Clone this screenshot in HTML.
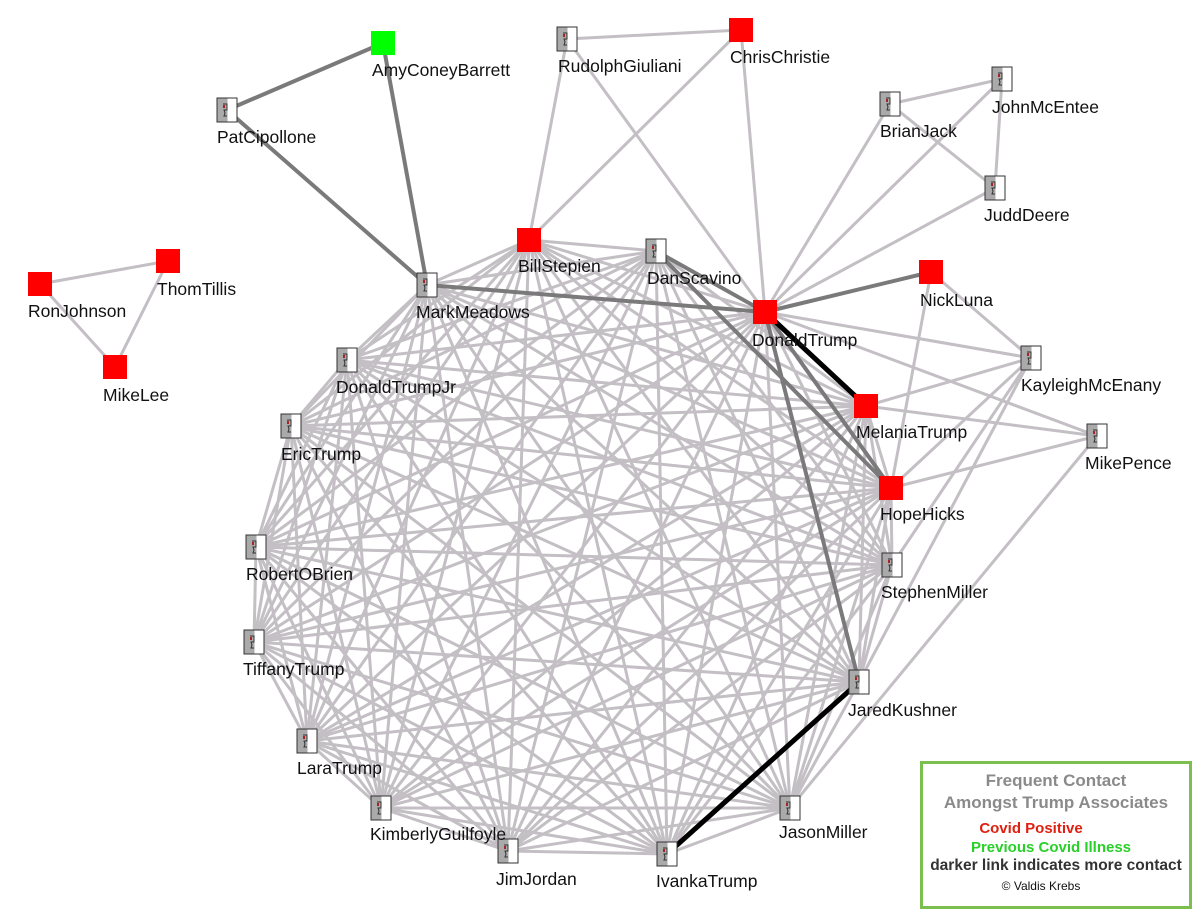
<!DOCTYPE html>
<html><head><meta charset="utf-8"><style>
html,body{margin:0;padding:0;background:#fff;width:1200px;height:918px;overflow:hidden}
svg{position:absolute;left:0;top:0}
text{font-family:"Liberation Sans",sans-serif;font-size:17.5px;fill:#111}
.lg{position:absolute;left:920px;top:761px;width:272px;height:148px;border:3px solid #7bbf4e;box-sizing:border-box;font-family:"Liberation Sans",sans-serif;text-align:center;font-weight:bold}
</style></head><body>
<svg id="s" width="1200" height="918" xmlns="http://www.w3.org/2000/svg">
<g id="edges"></g>
<g id="nodes"></g>
<g>
<text x="372" y="76">AmyConeyBarrett</text>
<text x="217" y="143">PatCipollone</text>
<text x="558" y="72">RudolphGiuliani</text>
<text x="730" y="63">ChrisChristie</text>
<text x="880" y="137">BrianJack</text>
<text x="992" y="113">JohnMcEntee</text>
<text x="984" y="221">JuddDeere</text>
<text x="28" y="317">RonJohnson</text>
<text x="157" y="295">ThomTillis</text>
<text x="103" y="401">MikeLee</text>
<text x="518" y="272">BillStepien</text>
<text x="647" y="284">DanScavino</text>
<text x="416" y="318">MarkMeadows</text>
<text x="920" y="306">NickLuna</text>
<text x="752" y="346">DonaldTrump</text>
<text x="336" y="393">DonaldTrumpJr</text>
<text x="1021" y="391">KayleighMcEnany</text>
<text x="856" y="438">MelaniaTrump</text>
<text x="281" y="460">EricTrump</text>
<text x="1085" y="469">MikePence</text>
<text x="880" y="520">HopeHicks</text>
<text x="246" y="580">RobertOBrien</text>
<text x="881" y="598">StephenMiller</text>
<text x="243" y="675">TiffanyTrump</text>
<text x="848" y="716">JaredKushner</text>
<text x="297" y="774">LaraTrump</text>
<text x="779" y="838">JasonMiller</text>
<text x="370" y="840">KimberlyGuilfoyle</text>
<text x="496" y="885">JimJordan</text>
<text x="656" y="887">IvankaTrump</text>
</g>
</svg>
<div class="lg">
<div style="color:#8a8a8a;font-size:17px;margin-top:6px;line-height:22px">Frequent Contact<br>Amongst Trump Associates</div>
<div style="color:#e02010;font-size:15px;margin-top:5px;margin-right:50px;line-height:19px">Covid Positive</div>
<div style="color:#2ad02a;font-size:15px;margin-top:0px;margin-right:10px;line-height:19px">Previous Covid Illness</div>
<div style="color:#333;font-size:15.5px;line-height:18px">darker link indicates more contact</div>
<div style="color:#111;font-size:12px;font-weight:normal;margin-top:4px;margin-right:30px">© Valdis Krebs</div>
</div>
<script>
var N={
Amy:[383,43,'g'],Pat:[227,110,'i'],Rud:[567,39,'i'],Chr:[741,30,'r'],Bri:[890,104,'i'],Joh:[1002,79,'i'],Jud:[995,188,'i'],
Ron:[40,284,'r'],Tho:[168,261,'r'],Mik:[115,367,'r'],Bil:[529,240,'r'],Dan:[656,251,'i'],Mar:[427,285,'i'],Nic:[931,272,'r'],
Don:[765,312,'r'],DJr:[347,360,'i'],Kay:[1031,358,'i'],Mel:[866,406,'r'],Eri:[291,426,'i'],Pen:[1097,436,'i'],Hop:[891,488,'r'],
Rob:[256,547,'i'],Ste:[892,565,'i'],Tif:[254,642,'i'],Jar:[859,682,'i'],Lar:[307,741,'i'],Jas:[790,808,'i'],Kim:[381,808,'i'],
Jim:[508,851,'i'],Iva:[667,854,'i']};
var E=document.getElementById('edges'),ns='http://www.w3.org/2000/svg';
function L(a,b,c,w){var l=document.createElementNS(ns,'line');l.setAttribute('x1',N[a][0]);l.setAttribute('y1',N[a][1]);l.setAttribute('x2',N[b][0]);l.setAttribute('y2',N[b][1]);l.setAttribute('stroke',c);l.setAttribute('stroke-width',w);E.appendChild(l);}
var ring=['Mar','Bil','Dan','Don','Mel','Hop','Ste','Jar','Jas','Iva','Jim','Kim','Lar','Tif','Rob','Eri','DJr'];
var LG='#c3bfc4';
for(var i=0;i<ring.length;i++)for(var j=i+1;j<ring.length;j++)L(ring[i],ring[j],LG,3);
[['Rud','Chr'],['Rud','Bil'],['Rud','Don'],['Chr','Bil'],['Chr','Don'],['Bri','Joh'],['Joh','Jud'],['Bri','Jud'],['Don','Bri'],['Don','Joh'],['Don','Jud'],
['Ron','Tho'],['Ron','Mik'],['Tho','Mik'],['Nic','Kay'],['Nic','Hop'],['Don','Kay'],['Don','Pen'],['Kay','Mel'],['Pen','Mel'],['Pen','Hop'],['Kay','Ste'],['Pen','Jas'],['Kay','Jar'],['Hop','Kay']].forEach(function(e){L(e[0],e[1],LG,3)});
var DG='#7a7a7a';
[['Amy','Pat'],['Amy','Mar'],['Pat','Mar'],['Mar','Don'],['Dan','Hop'],['Don','Hop'],['Don','Jar'],['Don','Nic'],['Dan','Don']].forEach(function(e){L(e[0],e[1],DG,4)});
L('Don','Mel','#000',5);L('Jar','Iva','#000',5);
var G=document.getElementById('nodes');
for(var k in N){var n=N[k];
 if(n[2]=='i'){
  G.insertAdjacentHTML('beforeend','<g transform="translate('+(n[0]-10)+','+(n[1]-12)+')"><rect x="0" y="0" width="20" height="24" fill="#fff" stroke="#333" stroke-width="1"/><rect x="0.5" y="0.5" width="10" height="23" fill="#aaa"/><path d="M6 6 L10 6 L10 12 L7 12 L8 15 L7 18 L10 18" fill="none" stroke="#333" stroke-width="1"/><rect x="6" y="7" width="2" height="3" fill="#a22"/></g>');
 } else {
  G.insertAdjacentHTML('beforeend','<rect x="'+(n[0]-12)+'" y="'+(n[1]-12)+'" width="24" height="24" fill="'+(n[2]=='r'?'#f00':'#0f0')+'"/>');
 }}
</script>
</body></html>
